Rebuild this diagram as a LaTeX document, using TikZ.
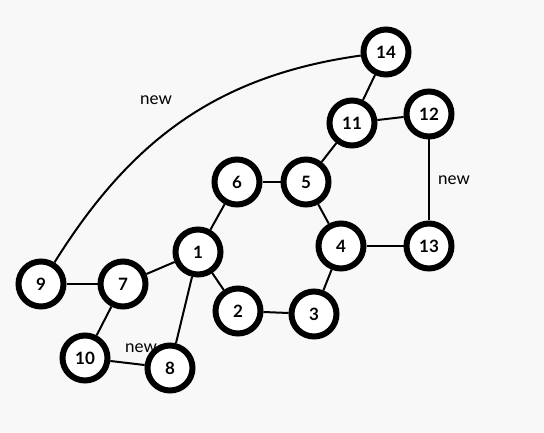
\documentclass[tikz,border=0pt]{standalone}
\usepackage{fontspec}
\setmainfont{Lato}
\definecolor{paper}{HTML}{F8F8F8}

\begin{document}
\begin{tikzpicture}[x=1pt,y=-1pt,
  vertex/.style={circle,draw,fill=white,line width=6pt,minimum size=45pt,inner sep=0pt,
    font=\fontsize{17}{17}\selectfont\bfseries},
  edge/.style={line width=2pt},
  tag/.style={font=\fontsize{17}{17}\selectfont}]
 \fill[paper] (0,0) rectangle (544,433);
 % labels of the new edges
 \node[tag] (t1) at (156,100) {new};
 \node[tag] (t2) at (454,180) {new};
 \node[tag] (t3) at (141,348) {new};
 % vertices
 \foreach \n/\x/\y in {1/198/252,2/238/311,3/314/314,4/341/246,5/306/182,6/237/182,7/123/284,
   8/170/368,9/41/284,10/85/358,11/352/123,12/429/114,13/429/246,14/386/52}{
  \node[vertex] (n\n) at (\x,\y) {\n};
 }
 % edges
 \foreach \a/\b in {1/6,1/2,1/7,1/8,2/3,3/4,4/5,5/6,4/13,5/11,11/14,11/12,12/13,7/9,7/10,10/8}{
  \draw[edge] (n\a) -- (n\b);
 }
 \draw[edge] (n9) to[out=58,in=188] (n14);
\end{tikzpicture}
\end{document}
